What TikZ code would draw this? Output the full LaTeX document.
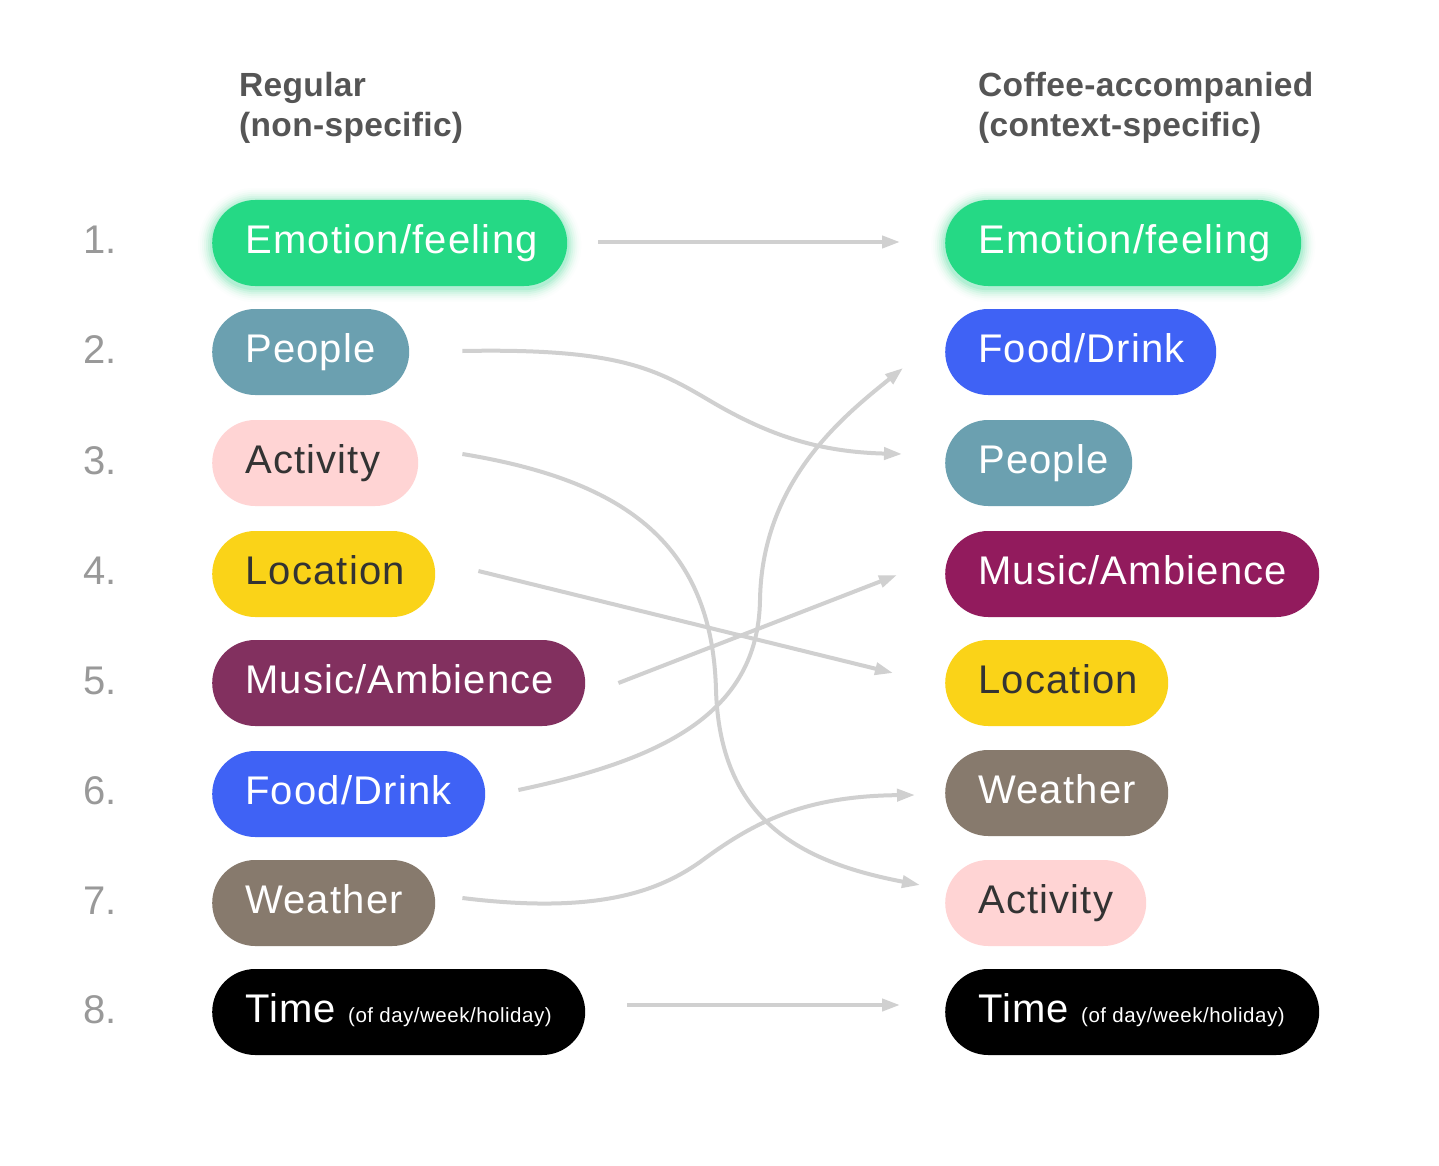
\documentclass[tikz,border=0pt]{standalone}
\usepackage{fontspec}
\setmainfont{Liberation Sans}
\newfontfamily\pillfont[LetterSpace=3]{Liberation Sans}
\newfontfamily\headfont[LetterSpace=1]{Liberation Sans}
\newfontfamily\smallfont[LetterSpace=2.5]{Liberation Sans}
\usetikzlibrary{arrows.meta,backgrounds}
\definecolor{cgreen}{HTML}{25D985}
\definecolor{cpeople}{HTML}{6BA0B0}
\definecolor{cactivity}{HTML}{FFD4D4}
\definecolor{clocation}{HTML}{FAD318}
\definecolor{cmusicl}{HTML}{82305F}
\definecolor{cmusicr}{HTML}{921B5D}
\definecolor{cfood}{HTML}{3F62F5}
\definecolor{cweather}{HTML}{877A6D}
\definecolor{cdark}{HTML}{333333}
\definecolor{cline}{HTML}{D0D0D0}
\definecolor{numgray}{HTML}{999999}
\definecolor{headgray}{HTML}{555555}
\newcommand{\timetext}{\mbox{Time\hspace{12pt}{\smallfont\fontsize{20.5}{24}\selectfont\spaceskip=0pt\xspaceskip=0pt\relax (of day/week/holiday)}}}
\begin{document}
\begin{tikzpicture}[x=1pt,y=-1pt,
  pill/.style={rounded corners=43pt, minimum height=86pt, inner xsep=33pt, inner ysep=0pt,
    anchor=west, align=left, text height=30pt, text depth=9pt,
    font=\pillfont\fontsize{40}{48}\selectfont},
  conn/.style={draw=cline, line width=4pt, -{Triangle[length=18pt,width=12pt]}},
  num/.style={anchor=base west, text=numgray, inner sep=0pt, font=\fontsize{40}{48}\selectfont},
  head/.style={anchor=base west, text=headgray, inner sep=0pt, font=\headfont\bfseries\fontsize{33.5}{40}\selectfont}]
\useasboundingbox (0,0) rectangle (1439,1166);

% headers
\node[head] (hla) at (239,97) {Regular};
\node[head] (hlb) at (239,137) {(non-specific)};
\node[head] (hra) at (978,97) {Coffee-accompanied};
\node[head] (hrb) at (978,137) {(context-specific)};

% numbers
\node[num] (n1) at (83,254) {1.};
\node[num] (n2) at (83,363) {2.};
\node[num] (n3) at (83,474) {3.};
\node[num] (n4) at (83,584) {4.};
\node[num] (n5) at (83,694) {5.};
\node[num] (n6) at (83,804) {6.};
\node[num] (n7) at (83,914) {7.};
\node[num] (n8) at (83,1023) {8.};

% left column
\node[pill, fill=cgreen, text=white, text width=289pt] (l1) at (212,243) {Emotion/feeling};
\node[pill, fill=cpeople, text=white, text width=131pt] (l2) at (212,352) {People};
\node[pill, fill=cactivity, text=cdark, text width=140pt] (l3) at (212,463) {Activity};
\node[pill, fill=clocation, text=cdark, text width=157pt] (l4) at (212,574) {Location};
\node[pill, fill=cmusicl, text=white, text width=307pt] (l5) at (212,683) {Music/Ambience};
\node[pill, fill=cfood, text=white, text width=207pt] (l6) at (212,794) {Food/Drink};
\node[pill, fill=cweather, text=white, text width=157pt] (l7) at (212,903) {Weather};
\node[pill, fill=black, text=white, text width=307pt] (l8) at (212,1012) {\timetext};

% right column
\node[pill, fill=cgreen, text=white, text width=290pt] (r1) at (945,243) {Emotion/feeling};
\node[pill, fill=cfood, text=white, text width=205pt] (r2) at (945,352) {Food/Drink};
\node[pill, fill=cpeople, text=white, text width=121pt] (r3) at (945,463) {People};
\node[pill, fill=cmusicr, text=white, text width=308pt] (r4) at (945,574) {Music/Ambience};
\node[pill, fill=clocation, text=cdark, text width=157pt] (r5) at (945,683) {Location};
\node[pill, fill=cweather, text=white, text width=157pt] (r6) at (945,793) {Weather};
\node[pill, fill=cactivity, text=cdark, text width=135pt] (r7) at (945,903) {Activity};
\node[pill, fill=black, text=white, text width=308pt] (r8) at (945,1012) {\timetext};

% background and glow for emotion nodes
\begin{scope}[on background layer]
\fill[white] (0,0) rectangle (1439,1166);
\foreach \nd in {l1,r1}{
  \foreach \r/\o in {2/0.12,4/0.09,6/0.07,8/0.05,10/0.035,12/0.02,14/0.012}{
    \pgfmathsetmacro{\rr}{43+\r}
    \fill[cgreen, opacity=\o, rounded corners=\rr pt]
      ([shift={(-\r,\r+2)}]\nd.south west) rectangle ([shift={(\r,-\r+2)}]\nd.north east);
  }
}
\end{scope}

% connectors
\draw[conn] ([shift={(31,-1)}]l1.east) -- ([shift={(-45,-1)}]r1.west);
\draw[conn] ([shift={(53,-1)}]l2.east) .. controls (620,348) and (656,369) .. (712,402)
  .. controls (770,436) and (820,452) .. ([shift={(-43,-9)}]r3.west);
\draw[conn] ([shift={(44,-9)}]l3.east) .. controls (620,480) and (712,540) .. (716,690)
  .. controls (720,820) and (800,862) .. ([shift={(-25,-18)}]r7.west);
\draw[conn] ([shift={(43,-3)}]l4.east) -- ([shift={(-52,-10)}]r5.west);
\draw[conn] ([shift={(33,0)}]l5.east) -- ([shift={(-48,1)}]r4.west);
\draw[conn] ([shift={(33,-4)}]l6.east) .. controls (660,760) and (758,715) .. (760,600)
  .. controls (762,480) and (845,415) .. ([shift={(-42,16)}]r2.west);
\draw[conn] ([shift={(27,-5)}]l7.east) .. controls (600,915) and (660,890) .. (700,862)
  .. controls (750,825) and (800,796) .. ([shift={(-30,2)}]r6.west);
\draw[conn] ([shift={(42,-7)}]l8.east) -- ([shift={(-45,-7)}]r8.west);
\end{tikzpicture}
\end{document}
